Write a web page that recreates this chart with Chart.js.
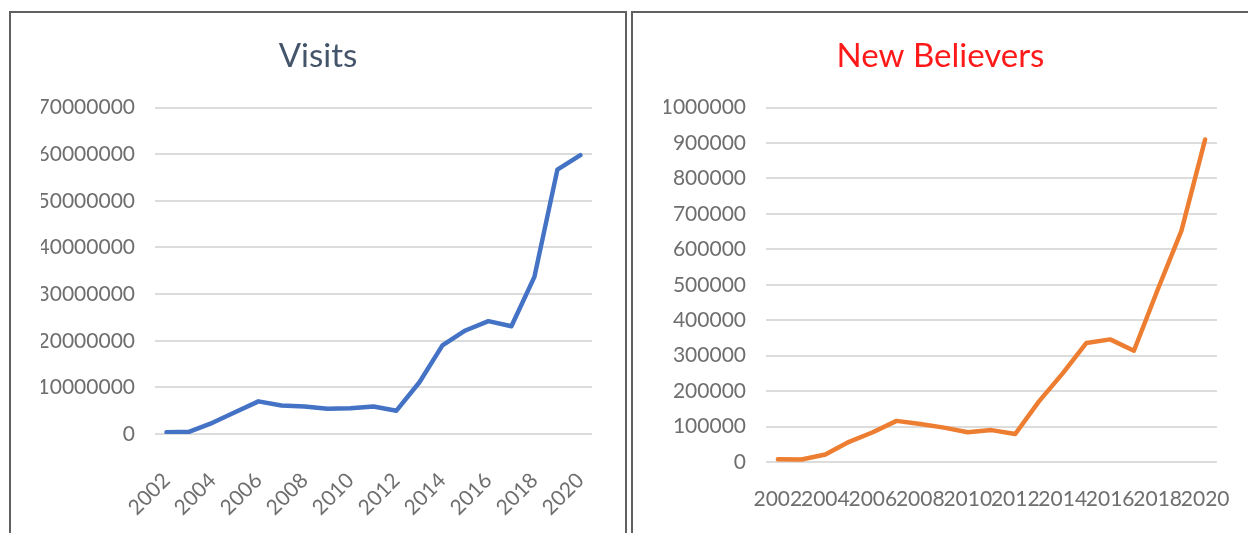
<!DOCTYPE html>
<html>
<head>
<meta charset="utf-8">
<script src="https://cdn.jsdelivr.net/npm/chart.js@4.4.1/dist/chart.umd.min.js"></script>
<style>
  body { margin: 0; background: #fff; width: 1248px; height: 533px; overflow: hidden; position: relative; }
  .panel { position: absolute; top: 11px; height: 530px; border: 2px solid #606060; border-bottom-color: #e6e6e6; background: #fff; }
  #leftPanel { left: 9px; width: 614px; }
  #rightPanel { left: 631px; width: 620px; border-right: none; }
  .panel div { position: absolute; left: 0; top: 0; height: 517px; }
</style>
</head>
<body>
<div class="panel" id="leftPanel"><div style="width:614px"><canvas id="visitsChart"></canvas></div></div>
<div class="panel" id="rightPanel"><div style="width:615px"><canvas id="believersChart"></canvas></div></div>

<script>
// data
const years = ['2002', '2003', '2004', '2005', '2006', '2007', '2008', '2009', '2010', '2011',
  '2012', '2013', '2014', '2015', '2016', '2017', '2018', '2019', '2020'];
const visits = [400000, 500000, 2400000, 4700000, 7000000, 6100000, 5900000, 5400000, 5500000, 5900000,
  5000000, 11100000, 19000000, 22200000, 24200000, 23100000, 33700000, 56700000, 59800000];
const newBelievers = [8000, 7000, 21000, 57000, 84000, 116000, 107000, 97000, 84000, 90000,
  79000, 171000, 250000, 336000, 346000, 314000, 486000, 652000, 910000];
const visitsTicks = { min: 0, max: 70000000, step: 10000000 };
const believersTicks = { min: 0, max: 1000000, step: 100000 };

const FONT = 'Lato, "Open Sans", sans-serif';
const TICK_COLOR = '#6e6e6e';

function evenYearOnly(value, index) {
  return index % 2 === 0 ? years[index] : '';
}

function makeChart(id, opts) {
  const ctx = document.getElementById(id).getContext('2d');
  return new Chart(ctx, {
    type: 'line',
    data: {
      labels: years,
      datasets: [{
        label: opts.title,
        data: opts.data,
        borderColor: opts.color,
        borderWidth: 4.5,
        borderCapStyle: 'round',
        borderJoinStyle: 'round',
        pointRadius: 0,
        tension: 0,
        fill: false,
      }]
    },
    options: {
      responsive: true,
      maintainAspectRatio: false,
      animation: false,
      // same padding on both sides so the title stays centred on the panel
      layout: { padding: { left: opts.pad, right: opts.pad, top: 0, bottom: 0 } },
      plugins: {
        legend: { display: false },
        tooltip: { enabled: false },
        title: {
          display: true,
          text: opts.title,
          color: opts.titleColor,
          font: { family: FONT, size: 33, weight: 'normal' },
          padding: { top: 24, bottom: 31 }
        }
      },
      scales: {
        x: {
          offset: true,
          grid: { display: false },
          border: { display: false },
          ticks: {
            autoSkip: false,
            minRotation: opts.rotation,
            maxRotation: opts.rotation,
            padding: opts.xPad,
            color: TICK_COLOR,
            font: { family: FONT, size: 21 },
            callback: evenYearOnly
          },
          afterFit: (s) => { s.height = opts.xHeight; }
        },
        y: {
          min: opts.ticks.min,
          max: opts.ticks.max,
          grid: { color: '#dcdcdc', lineWidth: 2, drawTicks: false },
          border: { display: false },
          ticks: {
            stepSize: opts.ticks.step,
            padding: 20,
            color: TICK_COLOR,
            font: { family: FONT, size: 21 },
            callback: (v) => String(v)
          },
          afterFit: (s) => { s.width = opts.yWidth; }
        }
      }
    }
  });
}

makeChart('visitsChart', {
  title: 'Visits', titleColor: '#44546a', color: '#4472c4', data: visits,
  ticks: visitsTicks, rotation: 45, xPad: 26, xHeight: 96, yWidth: 114, pad: 30
});

makeChart('believersChart', {
  title: 'New Believers', titleColor: '#ff1a1a', color: '#ed7d31', data: newBelievers,
  ticks: believersTicks, rotation: 0, xPad: 17, xHeight: 68, yWidth: 102, pad: 31
});
</script>
</body>
</html>
